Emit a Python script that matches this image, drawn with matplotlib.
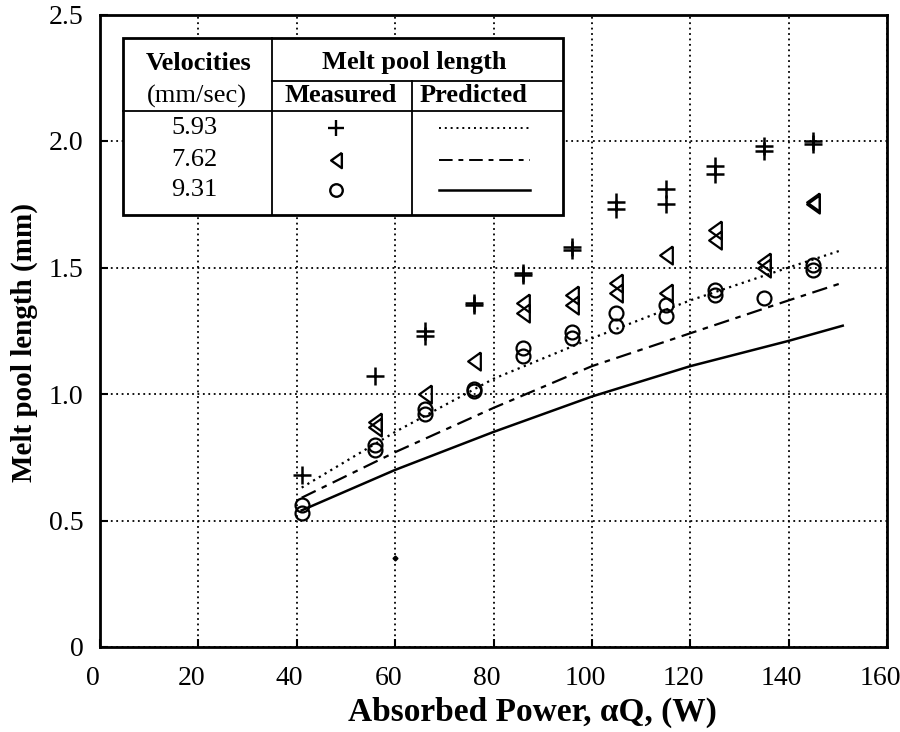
import matplotlib.pyplot as plt
import matplotlib.transforms as mtransforms
from matplotlib.lines import Line2D
from matplotlib.patches import Rectangle

plt.rcParams['font.family'] = ['Liberation Serif', 'DejaVu Serif']

# measured melt pool length (power in W, length in mm); repeated runs share x
power_593 = [41, 56, 66, 66, 76, 76, 86, 86, 96, 96, 105, 105, 115, 115, 125, 125, 135, 135, 145, 145]
length_593 = [0.68, 1.07, 1.25, 1.23, 1.36, 1.35, 1.48, 1.47, 1.58, 1.57, 1.76, 1.73, 1.81, 1.75,
              1.90, 1.87, 1.98, 1.96, 2.00, 1.99]
power_762 = [56, 56, 66, 76, 86, 86, 96, 96, 105, 105, 115, 115, 125, 125, 135, 135, 145, 145]
length_762 = [0.89, 0.87, 1.00, 1.13, 1.36, 1.32, 1.39, 1.35, 1.44, 1.40, 1.55, 1.40, 1.65, 1.61,
              1.52, 1.50, 1.76, 1.75]
power_931 = [41, 41, 56, 56, 66, 66, 76, 76, 86, 86, 96, 96, 105, 105, 115, 115, 125, 125, 135, 145, 145]
length_931 = [0.56, 0.53, 0.80, 0.78, 0.94, 0.92, 1.02, 1.01, 1.18, 1.15, 1.245, 1.22, 1.32, 1.27,
              1.35, 1.31, 1.41, 1.39, 1.38, 1.51, 1.49]

# predicted curves
pred_power = [41, 60, 80, 100, 120, 140, 151]
pred_593 = [0.63, 0.85, 1.06, 1.22, 1.37, 1.50, 1.57]
pred_762 = [0.59, 0.77, 0.945, 1.11, 1.24, 1.37, 1.44]
pred_931 = [0.54, 0.70, 0.85, 0.99, 1.11, 1.21, 1.27]

# stray speck in the scan
stray_x = [60]
stray_y = [0.35]

velocities = ['5.93', '7.62', '9.31']
x_ticks = [0, 20, 40, 60, 80, 100, 120, 140, 160]
y_ticks = [0, 0.5, 1.0, 1.5, 2.0, 2.5]
y_tick_labels = ['0', '0.5', '1.0', '1.5', '2.0', '2.5']

dot_style = (0, (1, 2))
dashdot_style = (0, (7, 3, 2.5, 3))
# open triangle pointing left, a bit taller than wide
tri = [(0.7, 1), (-0.7, 0), (0.7, -1), (0.7, 1)]

fig = plt.figure(figsize=(9, 7.32), dpi=100)
ax = fig.add_axes([100 / 900, 1 - 647 / 732, 787 / 900, 632.5 / 732])

ax.plot(pred_power, pred_593, color='black', lw=1.6, linestyle=dot_style)
ax.plot(pred_power, pred_762, color='black', lw=1.6, linestyle=dashdot_style)
ax.plot(pred_power, pred_931, color='black', lw=1.8, linestyle='-')

ax.plot(power_593, length_593, linestyle='none', marker='+', markersize=13, mew=1.8, color='black')
ax.plot(power_762, length_762, linestyle='none', marker=tri, markersize=13, mew=1.6,
        markerfacecolor='none', markeredgecolor='black')
ax.plot(power_931, length_931, linestyle='none', marker='o', markersize=10, mew=1.6,
        markerfacecolor='none', markeredgecolor='black')
ax.plot(stray_x, stray_y, linestyle='none', marker='D', markersize=2.5, color='black')

ax.set_xlim(0, 160)
ax.set_ylim(0, 2.5)
ax.set_xticks(x_ticks)
ax.set_yticks(y_ticks)
ax.set_yticklabels(y_tick_labels)
ax.tick_params(direction='in', length=6, width=1.5, labelsize=20, pad=12)
ax.tick_params(axis='x', pad=14)
ax.grid(True, color='black', linestyle=(0, (1, 2)), linewidth=1.3)
for s in ax.spines.values():
    s.set_linewidth(2)

# x tick labels sit a little left of their ticks in the original
shift = mtransforms.ScaledTranslation(-7 / 100, 0, fig.dpi_scale_trans)
for lbl in ax.get_xticklabels():
    lbl.set_transform(lbl.get_transform() + shift)

ax.set_xlabel('Absorbed Power, \u03b1Q, (W)', fontsize=24, fontweight='bold')
ax.set_ylabel('Melt pool length (mm)', fontsize=21, fontweight='bold')
ax.xaxis.set_label_coords(0.549, -0.078)
ax.yaxis.set_label_coords(-0.079, 0.482)


# legend table, drawn in figure pixels
def fx(x):
    return x / 900


def fy(y):
    return 1 - y / 732


box = Rectangle((fx(123), fy(215)), fx(563) - fx(123), fy(38) - fy(215), transform=fig.transFigure,
                facecolor='white', edgecolor='black', lw=2, zorder=5)
fig.patches.append(box)
for x0, y0, x1, y1 in [(272, 38, 272, 215), (412, 81, 412, 215), (272, 81, 563, 81), (123, 111, 563, 111)]:
    fig.lines.append(Line2D([fx(x0), fx(x1)], [fy(y0), fy(y1)], transform=fig.transFigure,
                            color='black', lw=1.3, zorder=6))

fig.text(fx(199), fy(63), 'Velocities', ha='center', va='center', fontsize=19, fontweight='bold', zorder=7)
fig.text(fx(197), fy(96), '(mm/sec)', ha='center', va='center', fontsize=19, zorder=7)
fig.text(fx(414), fy(63), 'Melt pool length', ha='center', va='center', fontsize=19, fontweight='bold', zorder=7)
fig.text(fx(341), fy(96), 'Measured', ha='center', va='center', fontsize=19, fontweight='bold', zorder=7)
fig.text(fx(474), fy(96), 'Predicted', ha='center', va='center', fontsize=19, fontweight='bold', zorder=7)

row_y = [128, 160, 190]
markers = [('+', 12, 'black'), (tri, 11, 'none'), ('o', 9, 'none')]
line_styles = [(dot_style, 1.4), (dashdot_style, 1.4), ('-', 1.8)]
for v, ry, (m, ms, fc), (ls, lw) in zip(velocities, row_y, markers, line_styles):
    fig.text(fx(194), fy(ry), v, ha='center', va='center', fontsize=19, zorder=7)
    fig.lines.append(Line2D([fx(336)], [fy(ry)], transform=fig.transFigure, marker=m, markersize=ms,
                            mew=1.7, markerfacecolor=fc, markeredgecolor='black', linestyle='none', zorder=7))
    fig.lines.append(Line2D([fx(439), fx(530)], [fy(ry), fy(ry)], transform=fig.transFigure,
                            color='black', linestyle=ls, lw=lw, zorder=7))

fig.savefig('out.png', dpi=100)
